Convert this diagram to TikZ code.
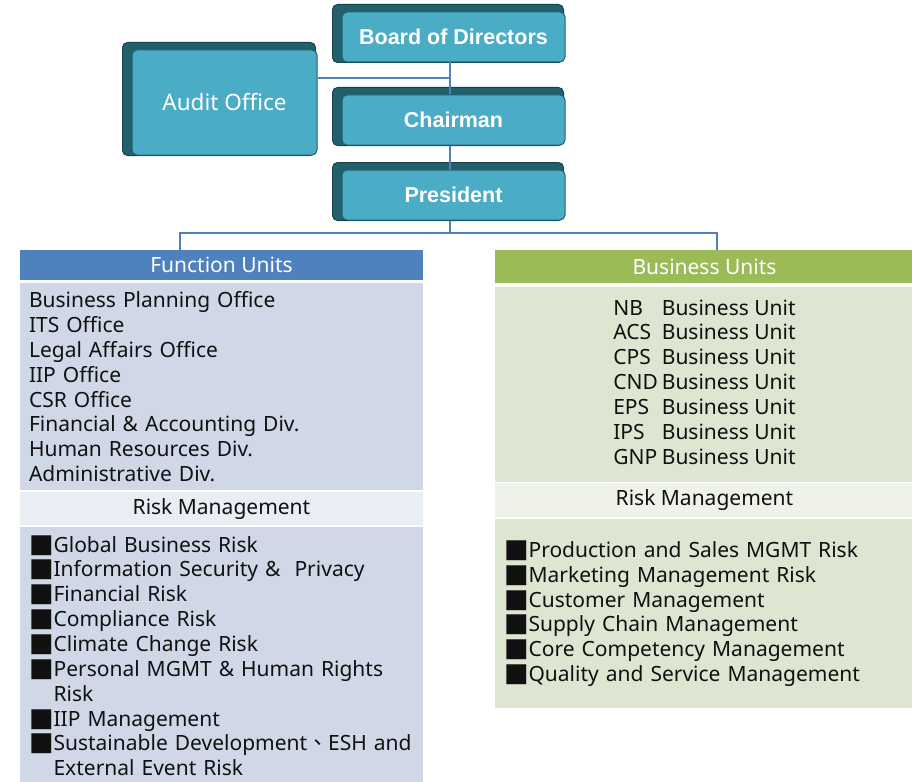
\documentclass[tikz,border=0pt]{standalone}
\usepackage{fontspec}
\setmainfont{Noto Sans}
\newfontfamily\boxfont{Liberation Sans}
\newfontfamily\cjk{Noto Sans CJK TC}
\newfontfamily\symfont{DejaVu Sans}
\usetikzlibrary{backgrounds}
\definecolor{tealbox}{HTML}{4BACC6}
\definecolor{tealdark}{HTML}{23606E}
\definecolor{linkblue}{HTML}{4F81BD}
\definecolor{fuhead}{HTML}{4F81BD}
\definecolor{fubody}{HTML}{D0D8E8}
\definecolor{fuband}{HTML}{E9EDF4}
\definecolor{buhead}{HTML}{9BBB59}
\definecolor{bubody}{HTML}{DDE6D1}
\definecolor{buband}{HTML}{EEF2E9}
\definecolor{ink}{HTML}{111111}
\newcommand\sq{{\symfont\fontsize{26}{24.85}\selectfont ■}}
\begin{document}
\begin{tikzpicture}[x=1pt,y=-1pt,
	topbox/.style={rectangle,rounded corners=5pt,fill=tealbox,draw=tealdark,line width=1pt,text=white,
		font=\boxfont\bfseries\fontsize{21.5}{24}\selectfont,minimum width=223pt,minimum height=50pt},
	backbox/.style={fill=tealdark,draw=tealdark!70!black,line width=1pt,rounded corners=5pt},
	link/.style={draw=linkblue,line width=2pt},
	panel/.style={rectangle,inner sep=0pt,anchor=north,text=ink,font=\fontsize{21}{24.85}\selectfont},
	headbox/.style={panel,text=white}]
	\useasboundingbox (0,0) rectangle (912,781);
	% top of the chart
	\node[topbox] (board) at (453.5,37) {Board of Directors};
	\node[topbox] (chair) at (453.5,120) {Chairman};
	\node[topbox] (pres) at (453.5,195) {President};
	\node[topbox,minimum width=185pt,minimum height=105pt,font=\fontsize{22.5}{24}\selectfont] (audit) at (224.5,102.5) {Audit Office};
	\begin{pgfonlayer}{background}
		\foreach \b in {board,chair,pres,audit}
			\draw[backbox] ([shift={(-9,-7)}]\b.north west) rectangle ([xshift=-2pt]\b.south east);
	\end{pgfonlayer}
	\coordinate (spine) at (450,0);
	\coordinate (auditlink) at (450,78);
	\coordinate (fork) at (450,233);
	\coordinate (fudrop) at (180,250);
	\coordinate (budrop) at (717,250);
	% function units
	\node[headbox,fill=fuhead,minimum width=403pt,minimum height=30pt] (fuhd) at (221.5,250) {Function Units};
	\node[panel,fill=fubody,minimum width=403pt,minimum height=207pt,text width=385pt,align=left] (fubd) at (221.5,283) {Business Planning Office\\ITS Office\\Legal Affairs Office\\IIP Office\\CSR Office\\Financial \& Accounting Div.\\Human Resources Div.\\Administrative Div.};
	\node[panel,fill=fuband,minimum width=403pt,minimum height=33pt] (furm) at (221.5,492) {Risk Management};
	\node[panel,fill=fubody,minimum width=403pt,minimum height=260pt,text width=385pt,align=left] (furk) at (221.5,527) {\sq Global Business Risk\\\sq Information Security \&\ \ Privacy\\\sq Financial Risk\\\sq Compliance Risk\\\sq Climate Change Risk\\\sq Personal MGMT \& Human Rights\\\phantom{\sq}Risk\\\sq IIP Management\\\mbox{\sq Sustainable Development{\cjk 、}ESH and}\\\phantom{\sq}External Event Risk};
	% business units
	\node[headbox,fill=buhead,minimum width=419pt,minimum height=33pt] (buhd) at (704.5,250) {Business Units};
	\node[panel,fill=bubody,minimum width=419pt,minimum height=195pt] (bubd) at (704.5,287) {\begin{tabular}{@{}l@{\hspace{4pt}}l@{}}
		NB & Business Unit\\ ACS & Business Unit\\ CPS & Business Unit\\ CND & Business Unit\\
		EPS & Business Unit\\ IPS & Business Unit\\ GNP & Business Unit\end{tabular}};
	\node[panel,fill=buband,minimum width=419pt,minimum height=34pt] (burm) at (704.5,483) {Risk Management};
	\node[panel,fill=bubody,minimum width=419pt,minimum height=189pt,text width=401pt,align=left] (burk) at (704.5,519) {\sq Production and Sales MGMT Risk\\\sq Marketing Management Risk\\\sq Customer Management\\\sq Supply Chain Management\\\sq Core Competency Management\\\sq Quality and Service Management};
	% links
	\draw[link] (board.south -| spine) -- (chair.north -| spine);
	\draw[link] (audit.east |- auditlink) -- (auditlink);
	\draw[link] (chair.south -| spine) -- (pres.north -| spine);
	\draw[link] (pres.south -| spine) -- (fork);
	\draw[link] (fudrop) |- (fork) -| (budrop);
\end{tikzpicture}
\end{document}
